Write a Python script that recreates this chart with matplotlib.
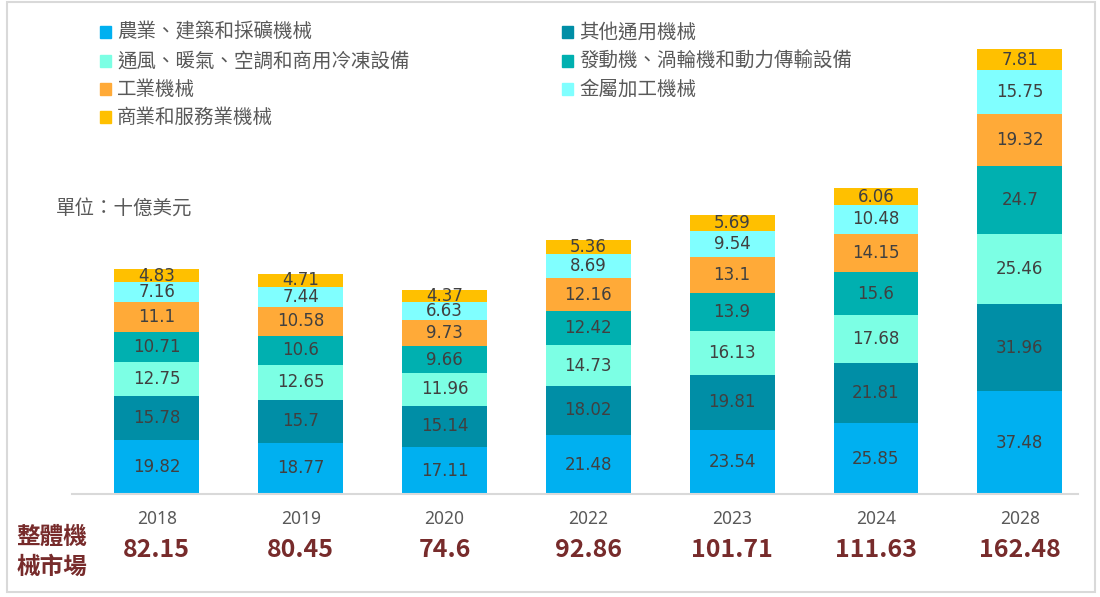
import matplotlib.pyplot as plt
import matplotlib.transforms as mtransforms
from matplotlib.patches import Rectangle
import numpy as np

plt.rcParams['font.family'] = ['Noto Sans CJK TC', 'DejaVu Sans']

years = ["2018", "2019", "2020", "2022", "2023", "2024", "2028"]
totals = ["82.15", "80.45", "74.6", "92.86", "101.71", "111.63", "162.48"]

series_names = [
    "農業、建築和採礦機械",
    "其他通用機械",
    "通風、暖氣、空調和商用冷凍設備",
    "發動機、渦輪機和動力傳輸設備",
    "工業機械",
    "金屬加工機械",
    "商業和服務業機械",
]
agri = [19.82, 18.77, 17.11, 21.48, 23.54, 25.85, 37.48]
general = [15.78, 15.7, 15.14, 18.02, 19.81, 21.81, 31.96]
hvac = [12.75, 12.65, 11.96, 14.73, 16.13, 17.68, 25.46]
engine = [10.71, 10.6, 9.66, 12.42, 13.9, 15.6, 24.7]
industrial = [11.1, 10.58, 9.73, 12.16, 13.1, 14.15, 19.32]
metal = [7.16, 7.44, 6.63, 8.69, 9.54, 10.48, 15.75]
commercial = [4.83, 4.71, 4.37, 5.36, 5.69, 6.06, 7.81]

series_values = [agri, general, hvac, engine, industrial, metal, commercial]
colors = ["#00B0F0", "#008EA6", "#7CFFE4", "#00B0B0", "#FFAA38", "#80FFFF", "#FFC000"]

W, H = 1100, 597
fig = plt.figure(figsize=(W / 100, H / 100), dpi=100)
ax = fig.add_axes([72 / W, (H - 494) / H, 1006 / W, 445 / H])

x = np.arange(len(years))
bottom = np.zeros(len(years))
for name, vals, col in zip(series_names, series_values, colors):
    vals = np.array(vals)
    ax.bar(x, vals, width=0.59, bottom=bottom, color=col, label=name)
    for xi, b, v in zip(x, bottom, vals):
        ax.text(xi, b + v / 2, f"{v:g}", ha="center", va="center",
                fontsize=12, color="#404040", family="DejaVu Sans")
    bottom += vals

ax.set_xlim(-0.59, 6.405)
ax.set_ylim(0, 162.48)
for s in ["top", "left", "right"]:
    ax.spines[s].set_visible(False)
ax.spines["bottom"].set_color("#D9D9D9")
ax.spines["bottom"].set_linewidth(1.5)
ax.set_xticks([])
ax.set_yticks([])

trans = mtransforms.blended_transform_factory(ax.transData, fig.transFigure)
for xi, yr, tot in zip(x, years, totals):
    ax.text(xi, 1 - 519 / H, yr, transform=trans, ha="center", va="center",
            fontsize=12.5, color="#595959", family="Noto Sans")
    ax.text(xi, 1 - 550 / H, tot, transform=trans, ha="center", va="center",
            fontsize=18, color="#772B2B", fontweight="bold")

fig.text(52 / W, 1 - 537 / H, "整體機", ha="center", va="center",
         fontsize=17, color="#772B2B", fontweight="bold")
fig.text(52 / W, 1 - 567 / H, "械市場", ha="center", va="center",
         fontsize=17, color="#772B2B", fontweight="bold")

fig.text(56 / W, 1 - 208 / H, "單位：十億美元", ha="left", va="center",
         fontsize=14, color="#595959")

# legend laid out in two columns, row by row
row_y = [32, 61, 89, 117]
col_x = [100, 562]
for i, (name, col) in enumerate(zip(series_names, colors)):
    r, c = i // 2, i % 2
    fig.patches.append(Rectangle(((col_x[c]) / W, 1 - (row_y[r] + 5.5) / H), 11 / W, 11 / H,
                                 transform=fig.transFigure, color=col))
    fig.text((col_x[c] + 17) / W, 1 - row_y[r] / H, name, ha="left", va="center",
             fontsize=14, color="#595959")

fig.patches.append(Rectangle((7 / W, 1 - 592 / H), 1088 / W, 590 / H, transform=fig.transFigure,
                             fill=False, edgecolor="#D9D9D9", linewidth=1.5))

fig.savefig("out.png", dpi=100)
